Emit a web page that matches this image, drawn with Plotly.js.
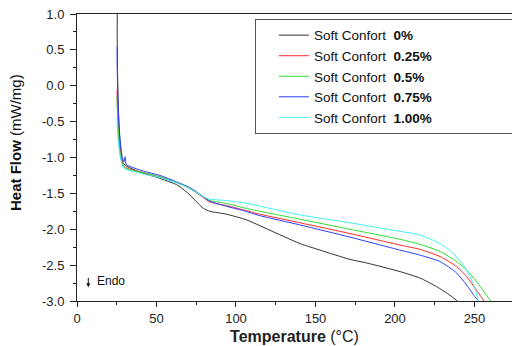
<!DOCTYPE html>
<html><head><meta charset="utf-8">
<script src="https://cdn.plot.ly/plotly-3.0.1.min.js"></script>
<style>html,body{margin:0;padding:0;background:#fff}#c{width:512px;height:346px}</style>
</head><body><div id="c"></div>
<script>
const seriesNames = ["Soft Confort  <b>0%</b>", "Soft Confort  <b>0.25%</b>", "Soft Confort  <b>0.5%</b>", "Soft Confort  <b>0.75%</b>", "Soft Confort  <b>1.00%</b>"];
const seriesColors = ["#333333", "#ff2a2a", "#33dd33", "#2a3cff", "#40f0f0"];

const x0 = [25.3, 25.3, 25.5, 26, 26.8, 27.8, 29, 32, 36, 41.7, 52.2, 62.7, 69, 75.3, 79.5, 83.6, 94, 106.7, 115, 140.3, 152.8, 171.7, 182.2, 203.1, 215.7, 226.2, 234.6, 239.2];
const y0 = [1.0, 0.6, 0.2, -0.3, -0.7, -0.95, -1.08, -1.13, -1.17, -1.22, -1.29, -1.38, -1.48, -1.62, -1.71, -1.75, -1.79, -1.87, -1.95, -2.20, -2.29, -2.42, -2.47, -2.59, -2.68, -2.80, -2.92, -3.0];

const x25 = [25.2, 25.4, 26, 27, 28.5, 30, 33, 41.7, 52.2, 62.7, 69, 73.2, 79.5, 83.6, 94, 104.6, 115, 140.3, 171.7, 203.1, 215.7, 228.3, 238.8, 245.1, 250.3, 256];
const y25 = [-0.06, -0.3, -0.6, -0.9, -1.08, -1.13, -1.16, -1.21, -1.27, -1.35, -1.41, -1.46, -1.56, -1.62, -1.67, -1.73, -1.79, -1.91, -2.06, -2.22, -2.28, -2.38, -2.52, -2.66, -2.82, -3.0];

const x50 = [25.2, 25.5, 26.2, 27.2, 28.7, 30, 33, 41.7, 52.2, 62.7, 69, 73.2, 79.5, 83.6, 94, 104.6, 115, 140.3, 171.7, 203.1, 215.7, 228.3, 238.8, 245.1, 251.4, 256.6, 260.2];
const y50 = [-0.15, -0.4, -0.7, -0.95, -1.1, -1.14, -1.17, -1.21, -1.27, -1.35, -1.41, -1.46, -1.55, -1.60, -1.64, -1.70, -1.75, -1.86, -2.00, -2.14, -2.21, -2.31, -2.45, -2.57, -2.73, -2.89, -3.0];

const x75 = [25.3, 25.3, 25.6, 26.3, 27.3, 28.5, 29.5, 30.2, 31, 34, 41.7, 52.2, 62.7, 69, 73.2, 79.5, 83.6, 94, 104.6, 115, 140.3, 171.7, 203.1, 215.7, 228.3, 238.8, 245.1, 250.3, 252.6];
const y75 = [0.55, 0.3, -0.1, -0.5, -0.8, -1.0, -1.06, -0.99, -1.1, -1.13, -1.19, -1.25, -1.34, -1.40, -1.45, -1.55, -1.61, -1.68, -1.74, -1.81, -1.94, -2.11, -2.29, -2.36, -2.45, -2.61, -2.78, -2.94, -3.0];

const x100 = [25.2, 25.5, 26.3, 27.5, 29, 31, 35, 41.7, 52.2, 62.7, 69, 73.2, 79.5, 83.6, 94, 104.6, 125.6, 140.3, 171.7, 203.1, 215.7, 228.3, 236.7, 243, 247.2, 250.3, 252.4];
const y100 = [-0.45, -0.65, -0.85, -1.02, -1.14, -1.17, -1.19, -1.23, -1.28, -1.35, -1.41, -1.46, -1.55, -1.58, -1.60, -1.63, -1.73, -1.80, -1.91, -2.03, -2.08, -2.20, -2.34, -2.50, -2.66, -2.82, -3.0];

const yTickVals = [1.0, 0.5, 0.0, -0.5, -1.0, -1.5, -2.0, -2.5, -3.0];
const yTickText = ["1.0", "0.5", "0.0", "-0.5", "-1.0", "-1.5", "-2.0", "-2.5", "-3.0"];
const xTickVals = [0, 50, 100, 150, 200, 250];

const xs = [x0, x25, x50, x75, x100];
const ys = [y0, y25, y50, y75, y100];
const traces = xs.map((x, i) => ({
  x: x, y: ys[i], type: 'scatter', mode: 'lines', name: seriesNames[i],
  line: {color: seriesColors[i], width: 1, shape: 'spline', smoothing: 0.6}
}));

const layout = {
  width: 512, height: 346,
  margin: {l: 77, r: 0, t: 14, b: 45, autoexpand: false},
  paper_bgcolor: '#fff', plot_bgcolor: '#fff',
  font: {family: 'Liberation Sans, Arial, sans-serif', color: '#222'},
  showlegend: true,
  legend: {x: 0.409, y: 0.983, xanchor: 'left', yanchor: 'top', bgcolor: '#fff', bordercolor: '#555', borderwidth: 1,
           orientation: 'h', font: {size: 13.5, color: '#111'}, indentation: 18, entrywidth: 200, entrywidthmode: 'pixels'},
  xaxis: {range: [0, 273.6], showline: true, linecolor: '#222', linewidth: 1, mirror: true, showgrid: false, zeroline: false,
          ticks: 'outside', ticklen: 5, tickcolor: '#222', tickvals: xTickVals, tickfont: {size: 13},
          minor: {dtick: 25, ticks: 'outside', ticklen: 3, tickcolor: '#222'},
          title: {text: '<b>Temperature</b> (°C)', font: {size: 16}, standoff: 6}},
  yaxis: {range: [-3, 1], showline: true, linecolor: '#222', linewidth: 1, showgrid: false, zeroline: false,
          ticks: 'outside', ticklen: 6, tickcolor: '#222', tickvals: yTickVals, ticktext: yTickText, tickfont: {size: 13},
          ticklabelstandoff: 3,
          minor: {dtick: 0.25, ticks: 'outside', ticklen: 3, tickcolor: '#222'}},
  annotations: [
    {x: -0.1425, y: 0.5505, xref: 'paper', yref: 'paper', xanchor: 'center', yanchor: 'middle', textangle: -90, showarrow: false,
     text: '<b>Heat Flow</b> (mW/mg)', font: {size: 15, color: '#111'}},
    {x: 7.1, y: -2.81, xref: 'x', yref: 'y', ax: 0, ay: -11, showarrow: true, arrowhead: 2, arrowsize: 0.8, arrowwidth: 1, arrowcolor: '#111', text: ''},
    {x: 11.3, y: -2.72, xref: 'x', yref: 'y', xanchor: 'left', showarrow: false, text: 'Endo', font: {size: 12, color: '#111'}}
  ]
};
Plotly.newPlot('c', traces, layout, {staticPlot: true, displayModeBar: false});
</script></body></html>
